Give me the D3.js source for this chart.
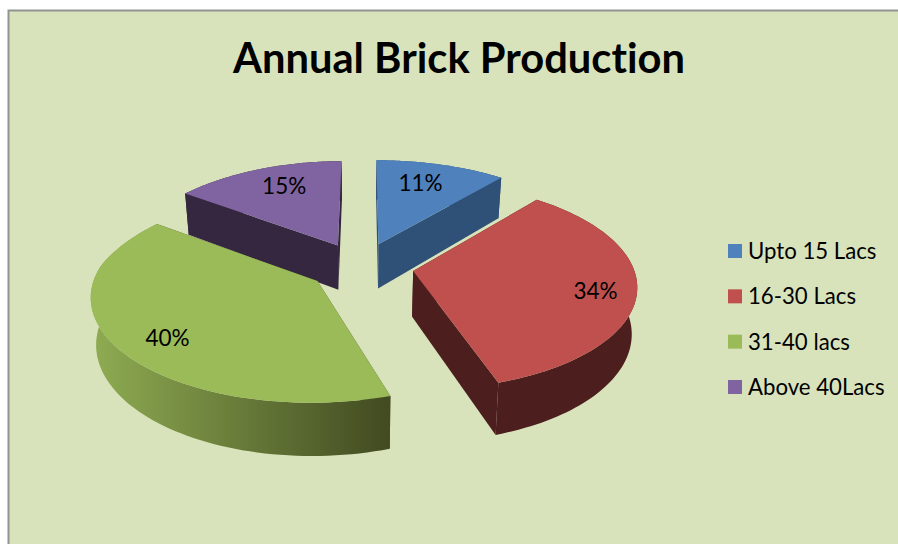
<!DOCTYPE html>
<html>
<head>
<meta charset="utf-8">
<script src="https://cdn.jsdelivr.net/npm/d3@7"></script>
<style>
  html, body { margin: 0; padding: 0; background: #ffffff; }
  svg { display: block; }
  text { font-family: Lato, "Open Sans", sans-serif; fill: #000; font-variant-ligatures: none; }
</style>
</head>
<body>
<svg id="chart" width="898" height="544"></svg>
<script>
// Annual brick production, share of kilns per output band
const categories = ["Upto 15 Lacs", "16-30 Lacs", "31-40 lacs", "Above 40Lacs"];
const shares = [11, 34, 40, 15];
const chartTitle = "Annual Brick Production";

const topColors = ["#4f81bd", "#c0504d", "#9bbb59", "#8064a2"];
const radialWallColors = ["#2f5077", "#4d1e1e", "#434c22", "#35273f"];

// Pie geometry: unit disc seen in perspective
const view = {
  cx: 361, cy: 266.5, rx: 220, ry: 101,
  tiltX: 0.128, tiltY: 0.135, lean: 0.05,
  depth: 45.5, shrink: 0.98, explode: 0.24
};
// Where each percentage sits: fraction across the slice, fraction of the radius
const labelSpots = [[0.44, 0.74], [0.52, 0.82], [0.475, 0.795], [0.56, 0.74]];

const svg = d3.select("#chart");
const defs = svg.append("defs");

svg.append("rect")
  .attr("x", 9).attr("y", 11).attr("width", 889).attr("height", 533)
  .attr("fill", "#d8e3bc");
svg.append("path")
  .attr("d", "M8.5,544V10.5H898")
  .attr("fill", "none").attr("stroke", "#939393").attr("stroke-width", 2);

svg.append("text")
  .attr("x", 459).attr("y", 73)
  .attr("text-anchor", "middle")
  .attr("font-size", 41.7).attr("font-weight", 700)
  .text(chartTitle);

const project = ([X, Y]) => {
  const w = 1 + view.tiltX * Y;
  const leaned = X < 0 && Y > 0 ? X - view.lean * Y * X : X;
  return [view.cx + view.rx * leaned / w, view.cy - view.ry * Y / (1 + view.tiltY * Y), w];
};
const lower = ([x, y, w]) => [
  view.cx + (x - view.cx) * view.shrink,
  y + view.depth / w
];

const pieLayout = d3.pie().sort(null)(shares);
const line = d3.line();

const slices = pieLayout.map((d, i) => {
  const mid = (d.startAngle + d.endAngle) / 2;
  const apex = [view.explode * Math.sin(mid), view.explode * Math.cos(mid)];
  const rim = d3.range(0, 1.0001, 1 / 80).map(t => {
    const a = d.startAngle + t * (d.endAngle - d.startAngle);
    return project([apex[0] + Math.sin(a), apex[1] + Math.cos(a)]);
  });
  return { d, i, apex, rim, apexP: project(apex) };
});

// Green rim shades from lit to dark as it wraps round the front
const grad = defs.append("linearGradient")
  .attr("id", "greenRim").attr("gradientUnits", "userSpaceOnUse")
  .attr("x1", 91).attr("x2", 387).attr("y1", 0).attr("y2", 0);
grad.append("stop").attr("offset", 0).attr("stop-color", "#8fac52");
grad.append("stop").attr("offset", 1).attr("stop-color", "#424b21");

const rimFill = i => i === 2 ? "url(#greenRim)" : radialWallColors[i];
const quad = (a, b) => line([a, b, lower(b), lower(a)]) + "Z";

// Back slices first so the nearer ones overlap them
[0, 3, 1, 2].forEach(i => {
  const s = slices[i];
  const g = svg.append("g");
  const first = s.rim[0], last = s.rim[s.rim.length - 1];
  g.append("path").attr("d", quad(s.apexP, first)).attr("fill", radialWallColors[i]);
  g.append("path").attr("d", quad(s.apexP, last)).attr("fill", radialWallColors[i]);
  g.append("path")
    .attr("d", line(s.rim.concat(s.rim.map(lower).reverse())) + "Z")
    .attr("fill", rimFill(i));
  g.append("path")
    .attr("d", line([s.apexP].concat(s.rim)) + "Z")
    .attr("fill", topColors[i]);
});

// Percentage labels
slices.forEach(s => {
  const [frac, rad] = labelSpots[s.i];
  const a = s.d.startAngle + frac * (s.d.endAngle - s.d.startAngle);
  const p = project([s.apex[0] + rad * Math.sin(a), s.apex[1] + rad * Math.cos(a)]);
  svg.append("text")
    .attr("x", p[0]).attr("y", p[1] + 8)
    .attr("text-anchor", "middle")
    .attr("font-size", 22.5)
    .text(shares[s.i] + "%");
});

// Legend
const legendY = d3.scalePoint().domain(categories).range([251, 387]);
const legend = svg.append("g").selectAll("g").data(categories).join("g")
  .attr("transform", d => `translate(728,${legendY(d)})`);
legend.append("rect")
  .attr("x", 0).attr("y", -7).attr("width", 14).attr("height", 14)
  .attr("fill", (d, i) => topColors[i]);
legend.append("text")
  .attr("x", 20).attr("y", 8)
  .attr("font-size", 22.2)
  .text(d => d);
</script>
</body>
</html>
